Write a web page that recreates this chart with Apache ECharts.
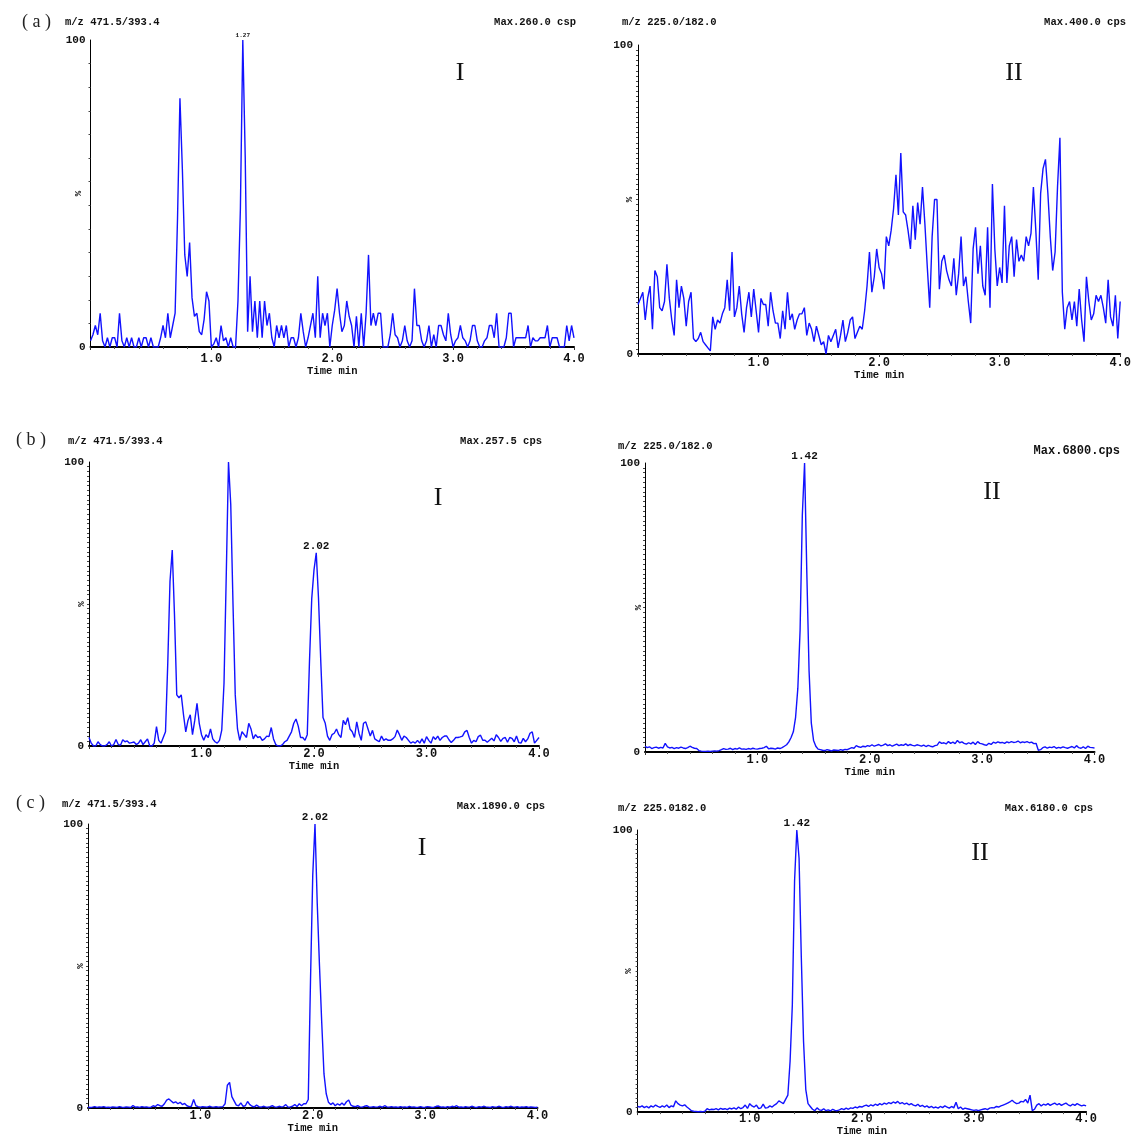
<!DOCTYPE html>
<html>
<head>
<meta charset="utf-8">
<script src="https://cdn.jsdelivr.net/npm/echarts@6/dist/echarts.min.js"></script>
<style>
    html, body { margin: 0; padding: 0; background: #fff; }
    #chart { width: 1134px; height: 1138px; }
</style>
</head>
<body>
<div id="chart"></div>
<script>
// Time grid of all traces (min)
const TIME_STEP = 0.02;

// Relative intensity (%), one value per TIME_STEP
const traceAI = [
    2, 4, 7, 4, 11, 2, 0, 3, 0, 3,
    3, 0, 11, 2, 0, 3, 0, 3, 0, 0,
    3, 0, 3, 3, 0, 3, 0, 0, 0, 3,
    7, 3, 11, 3, 7, 11, 42, 81, 58, 30,
    23, 34, 16, 10, 11, 5, 4, 9, 18, 15,
    0, 1, 3, 0, 7, 2, 3, 0, 3, 0,
    0, 15, 45, 100, 62, 5, 23, 5, 15, 3,
    15, 3, 15, 7, 11, 3, 0, 7, 3, 7,
    3, 7, 0, 3, 3, 0, 3, 11, 5, 0,
    3, 7, 11, 3, 23, 3, 11, 7, 11, 0,
    7, 12, 19, 11, 5, 7, 15, 10, 7, 0,
    10, 0, 11, 0, 11, 30, 7, 11, 7, 11,
    11, 0, 0, 0, 4, 11, 4, 3, 0, 2,
    7, 2, 0, 2, 19, 7, 7, 2, 0, 2,
    7, 0, 4, 0, 7, 7, 4, 2, 11, 4,
    0, 2, 3, 7, 3, 2, 0, 2, 7, 7,
    2, 0, 0, 2, 3, 7, 7, 3, 11, 0,
    0, 0, 3, 11, 11, 0, 3, 3, 3, 3,
    3, 7, 0, 3, 2, 2, 3, 3, 3, 7,
    0, 3, 3, 3, 0, 0, 0, 7, 2, 7,
    3
];

const traceAII = [
    16, 18, 20, 11, 18, 22, 8, 27, 25, 15,
    14, 17, 29, 18, 11, 6, 24, 15, 22, 18,
    9, 17, 20, 5, 4, 5, 7, 4, 3, 2,
    1, 12, 8, 11, 10, 13, 15, 24, 14, 33,
    12, 15, 22, 13, 7, 15, 20, 12, 21, 14,
    7, 18, 16, 16, 9, 20, 14, 10, 10, 5,
    14, 8, 20, 11, 13, 8, 11, 13, 13, 15,
    6, 10, 8, 4, 9, 6, 3, 4, 0, 6,
    4, 6, 8, 2, 6, 11, 4, 7, 11, 12,
    5, 7, 9, 8, 14, 22, 33, 20, 25, 34,
    28, 26, 21, 38, 35, 40, 47, 58, 45, 65,
    46, 45, 40, 34, 48, 37, 49, 42, 54, 42,
    28, 15, 38, 50, 50, 21, 30, 32, 27, 24,
    22, 31, 19, 26, 38, 22, 25, 17, 10, 34,
    41, 26, 35, 22, 19, 41, 15, 55, 34, 22,
    28, 23, 48, 23, 35, 38, 25, 37, 30, 32,
    30, 38, 35, 39, 54, 40, 24, 52, 60, 63,
    52, 38, 27, 33, 54, 70, 20, 8, 15, 17,
    11, 17, 9, 21, 11, 4, 25, 17, 11, 13,
    19, 17, 19, 15, 10, 24, 12, 9, 19, 5,
    17
];

const traceBI = [
    3, 1, 0, 0, 1.5, 0.5, 0, 0, 0.5, 1.5,
    0, 0.5, 2.3, 0.5, 0.3, 2.2, 1.5, 1.8, 1, 1.2,
    1.4, 0.5, 1, 2.2, 0.5, 1.5, 2.5, 0, 0, 1,
    6.8, 2, 1, 3, 5, 29, 58, 69, 46, 18,
    17, 18, 11, 5, 9, 11, 4, 9, 15, 8,
    4, 2, 4, 3, 6, 2.5, 1.5, 1, 2, 5.6,
    22, 60, 100, 85, 50, 18, 6, 2, 5, 4,
    3, 8, 6, 2.5, 4, 3, 3.3, 2, 2.5, 3.5,
    3.3, 6.5, 2.5, 0.5, 0, 0, 0.5, 1.5, 2, 3.5,
    5, 8, 9.5, 7, 3, 3, 2, 4, 30, 52,
    62, 68, 52, 30, 10, 8, 3.5, 2, 4, 4.5,
    6, 4, 3, 9, 7.5, 10, 6, 5, 3, 8.5,
    4.5, 2, 8, 8.5, 6, 3.5, 5.5, 2.5, 2, 1.5,
    3.5, 2, 2.5, 2, 2, 2.5, 3.3, 5.6, 4, 2,
    3.5, 3, 2, 1, 1.5, 1, 2, 1, 2.5, 1,
    3.3, 2, 1, 3.3, 2.3, 3.5, 2, 3, 3.5, 3.5,
    2.2, 1.2, 2, 3, 3, 3.2, 3.5, 5, 5.5, 3,
    1, 2, 1.5, 3.3, 3.8, 2, 2, 1.3, 2, 2.7,
    1.8, 4, 3, 1.6, 2.7, 3, 1.3, 3, 2.7, 1.5,
    3.5, 1.2, 1, 2.7, 1.5, 2.5, 4.5, 5, 1, 2,
    3
];

const traceBII = [
    2, 1.5, 1.8, 1.2, 1.5, 1.7, 1.3, 1.6, 1.4, 3,
    1.8, 1.4, 1.6, 1.2, 1.5, 1.3, 1.7, 1.4, 1.2, 1.5,
    2, 1.6, 1.3, 1.2, 0.5, 0.3, 0.2, 0.2, 0.3, 0.2,
    0.3, 0.4, 0.3, 0.5, 0.8, 1.2, 0.9, 1, 1.3, 0.8,
    1.2, 1, 1.4, 1, 1.1, 0.9, 1.2, 1, 1.3, 1.1,
    1, 1.2, 1.3, 1.5, 2, 1.1, 1.3, 1.2, 1, 1.4,
    1.2, 1.5, 2, 2.5, 3.5, 5, 7, 12, 22, 42,
    82, 100, 62, 28, 10, 4, 2, 1, 0.8, 0.6,
    0.5, 0.8, 0.6, 0.4, 0.7, 0.6, 0.5, 0.8, 0.6, 0.9,
    0.8, 1.2, 1.5, 1.3, 2.2, 1.8, 1.6, 2, 1.8, 2.2,
    2, 2.5, 2, 2.3, 2.6, 2.1, 2.4, 2.8, 2.2, 2.5,
    2, 2.4, 2.7, 2.2, 2.5, 2.3, 2.8, 2.2, 2.6, 2.3,
    2.1, 2.5, 2.3, 2, 2.4, 1.9, 2.3, 2, 1.8, 2.2,
    2.4, 3.5, 3, 3.2, 2.8, 3.6, 3, 3.4, 2.9, 4,
    3.2, 3.5, 3, 2.7, 3.2, 2.8, 3.4, 2.6, 3.6, 3,
    2.8, 2.5, 2.3, 3, 2.6, 3.4, 3.1, 3.5, 3.2, 3.3,
    3, 3.5, 3.2, 3.6, 3.3, 3.4, 3.8, 3.2, 3.5, 3.3,
    3.6, 3.2, 3.4, 2.9, 3, 0.6, 0.8, 1.5, 1.8, 1.3,
    1.7, 1.5, 1.9, 1.3, 1.6, 1.4, 1.8, 1.5, 1.3, 1.6,
    1.9, 1.4, 2.2, 1.5, 1.3, 1.8, 1.2, 2, 1.6, 1.5,
    1.4
];

const traceCI = [
    0.3, 0.2, 0.3, 0.5, 0.2, 0.4, 0.3, 0.5, 0.2, 0.3,
    0.2, 0.4, 0.3, 0.2, 0.5, 0.3, 0.2, 0.4, 0.3, 0.2,
    0.9, 0.3, 0.4, 0.2, 0.5, 0.3, 0.4, 0.2, 0.3, 0.8,
    0.5, 1.2, 0.8, 0.6, 1.5, 2.8, 3.2, 2.5, 1.8, 2.2,
    1.5, 2, 1.2, 1.6, 0.8, 0.5, 0.6, 3, 0.8, 0.5,
    0.3, 0.5, 0.4, 0.3, 0.6, 0.4, 0.3, 0.5, 0.3, 0.4,
    0.5, 1.5, 8, 9, 4, 2.5, 1, 0.8, 1.8, 0.6,
    0.8, 2.3, 1.2, 0.6, 0.4, 1, 0.5, 0.3, 0.6, 0.4,
    0.3, 0.5, 0.8, 0.4, 0.3, 0.6, 0.4, 0.5, 1.2, 0.3,
    0.4, 0.6, 1.2, 0.5, 1.5, 0.8, 1.5, 1.5, 3, 45,
    82, 100, 72, 50, 30, 12, 5, 2, 1.2, 1.8,
    0.8, 1.5, 1, 1.8, 1, 2.2, 2.8, 1, 0.6, 0.5,
    0.8, 0.4, 0.3, 0.6, 0.8, 0.4, 0.3, 0.5, 0.3, 0.4,
    0.6, 0.3, 0.8, 0.4, 0.3, 0.5, 0.3, 0.4, 0.2, 0.5,
    0.3, 0.4, 0.2, 0.6, 0.3, 0.4, 0.2, 0.3, 0.5, 0.2,
    0.3, 0.5, 0.4, 0.2, 0.3, 0.6, 0.7, 0.3, 0.4, 0.2,
    0.5, 0.3, 0.6, 0.4, 0.8, 0.3, 0.4, 0.2, 0.5, 0.3,
    0.4, 0.6, 0.3, 0.2, 0.5, 0.3, 0.6, 0.4, 0.3, 0.2,
    0.5, 0.3, 0.4, 0.6, 0.3, 0.2, 0.5, 0.3, 0.6, 0.4,
    0.3, 0.5, 0.2, 0.4, 0.3, 0.5, 0.2, 0.4, 0.3, 0.2,
    0.3
];

const traceCII = [
    2, 1.8, 2.2, 1.6, 2, 1.5, 2.2, 1.8, 2.5, 2,
    1.7, 2.2, 1.8, 2.5, 1.6, 2.2, 1.9, 4, 3, 2.5,
    2.2, 2.6, 1.8, 1.2, 0.5, 0.3, 0.2, 0.1, 0.2, 0.1,
    0.3, 1.2, 0.8, 1, 0.9, 1.2, 0.8, 1.3, 1, 1.2,
    0.9, 1.4, 1.1, 1.5, 1, 1.8, 1.2, 1.6, 2.5, 1.3,
    3, 2.2, 1.8, 2.5, 1.2, 1.5, 2.8, 1.4, 1.6, 2.2,
    1.8, 2.5, 3, 4, 3.5, 3, 4.5, 6, 18, 38,
    82, 100, 90, 55, 25, 8, 3, 2, 1, 0.5,
    1.5, 0.8, 0.6, 1.2, 0.5, 0.8, 0.4, 1, 0.6, 0.5,
    0.8, 1.2, 0.9, 1.4, 1, 1.5, 1.3, 1.8, 1.5, 2,
    1.8, 2.2, 2.5, 2, 2.6, 2.2, 2.8, 2.4, 3, 2.6,
    3.2, 2.8, 3.4, 3, 3.6, 3.2, 3.8, 3, 3.4, 2.8,
    3.2, 2.6, 3, 2.5, 2.2, 2.8, 2, 2.4, 1.8, 2.2,
    1.6, 2, 1.5, 1.8, 1.4, 2, 1.6, 2.2, 1.8, 1.4,
    2, 1.5, 3.5, 1.2, 1.8, 1, 1.4, 1.2, 1, 0.8,
    0.6, 0.8, 0.5, 0.8, 1, 1.2, 0.9, 1.4, 1.6, 1.5,
    2, 1.8, 2.2, 2.5, 2.8, 3.2, 3.6, 4.2, 3.5, 3,
    3.2, 3.8, 3.6, 4.5, 3.2, 6, 0.5, 1, 2.5, 3,
    2.2, 2.8, 2.5, 3, 2.4, 2.8, 3.2, 2.6, 3, 2.4,
    2.8, 3.2, 2.6, 2.2, 2.8, 2.4, 3, 2.6, 2.2, 2.5,
    2.2
];

// Panel texts
const panelLetters = ['( a )', '( b )', '( c )'];
const mzLabels = ['m/z 471.5/393.4', 'm/z 225.0/182.0', 'm/z 471.5/393.4', 'm/z 225.0/182.0', 'm/z 471.5/393.4', 'm/z 225.0182.0'];
const maxLabels = ['Max.260.0 csp', 'Max.400.0 cps', 'Max.257.5 cps', 'Max.6800.cps', 'Max.1890.0 cps', 'Max.6180.0 cps'];
const romanLabels = ['I', 'II', 'I', 'II', 'I', 'II'];
const peakTimes = [1.27, null, 2.02, 1.42, 2.02, 1.42];
const peakLabels = ['1.27', '', '2.02', '1.42', '2.02', '1.42'];
const xTickLabels = ['', '1.0', '2.0', '3.0', '4.0'];
const yTickLabels = ['0', '100'];

const traces = [traceAI, traceAII, traceBI, traceBII, traceCI, traceCII];

// Layout for each panel: plot box, label gaps and header positions
const panels = [
    { box: [90.5, 40, 483.5, 307], tickMargin: 6, nameGap: 17, pctGap: 7, ySplit: 13,
      mz: [65, 22], max: [576, 22], roman: [460, 73], letter: [22, 22], peakFont: 6, maxFont: 10.5 },
    { box: [638, 45, 484, 309], tickMargin: 3, nameGap: 14, pctGap: 4, ySplit: 60,
      mz: [622, 22], max: [1126, 22], roman: [1014, 73], peakFont: 11, maxFont: 10.5 },
    { box: [89, 462, 450, 284], tickMargin: 2, nameGap: 11, pctGap: 3, ySplit: 60,
      mz: [68, 441], max: [542, 441], roman: [438, 498], letter: [16, 440], peakFont: 11, maxFont: 10.5 },
    { box: [645, 463, 449.5, 289], tickMargin: 2, nameGap: 13, pctGap: 2, ySplit: 60,
      mz: [618, 446], max: [1120, 451], roman: [992, 492], peakFont: 11, maxFont: 12 },
    { box: [88, 824, 449.5, 284], tickMargin: 2, nameGap: 15, pctGap: 3, ySplit: 60,
      mz: [62, 804], max: [545, 806], roman: [422, 848], letter: [16, 803], peakFont: 11, maxFont: 10.5 },
    { box: [637.6, 830, 448.5, 284], tickMargin: 1, nameGap: 13, pctGap: 4, ySplit: 60,
      mz: [618, 808], max: [1093, 808], roman: [980, 853], peakFont: 11, maxFont: 10.5 }
];

const LINE_COLOR = '#1212ff';
const MONO = '"Liberation Mono", "DejaVu Sans Mono", monospace';
const SERIF = '"Liberation Serif", "DejaVu Serif", serif';

const toPairs = vals => vals.map((v, i) => [+(i * TIME_STEP).toFixed(2), v]);

// Highest point near the labelled retention time
function peakPoint(pairs, t) {
    let best = null;
    pairs.forEach(p => {
        if (Math.abs(p[0] - t) <= 0.03 && (!best || p[1] > best[1])) best = p;
    });
    return best;
}

const grids = [], xAxes = [], yAxes = [], series = [], graphics = [];

panels.forEach((p, i) => {
    const [left, top, width, height] = p.box;
    grids.push({ left, top, width, height });

    xAxes.push({
        gridIndex: i, type: 'value', min: 0, max: 4, interval: 1,
        name: 'Time min', nameLocation: 'middle', nameGap: p.nameGap,
        nameTextStyle: { fontFamily: MONO, fontWeight: 'bold', fontSize: 10.5, color: '#111' },
        axisLine: { show: true, onZero: false, lineStyle: { color: '#000', width: 2 } },
        axisTick: { show: true, length: 3, lineStyle: { color: '#333' } },
        minorTick: { show: true, splitNumber: 5, length: 2, lineStyle: { color: '#555' } },
        splitLine: { show: false },
        axisLabel: {
            margin: p.tickMargin, fontFamily: MONO, fontWeight: 'bold', fontSize: 12, color: '#111',
            formatter: v => xTickLabels[Math.round(v)] || ''
        }
    });

    yAxes.push({
        gridIndex: i, type: 'value', min: 0, max: 100, interval: 100,
        name: '%', nameLocation: 'middle', nameGap: p.pctGap, nameRotate: 90, nameMoveOverlap: false,
        nameTextStyle: { fontFamily: MONO, fontWeight: 'bold', fontSize: 9, color: '#111' },
        axisLine: { show: true, lineStyle: { color: '#000', width: 1 } },
        axisTick: { show: false },
        minorTick: { show: true, splitNumber: p.ySplit, length: 2, lineStyle: { color: '#444' } },
        splitLine: { show: false },
        axisLabel: {
            margin: 5, fontFamily: MONO, fontWeight: 'bold', fontSize: 11, color: '#111',
            formatter: v => (v === 0 ? yTickLabels[0] : yTickLabels[1])
        }
    });

    const pairs = toPairs(traces[i]);
    const s = {
        type: 'line', xAxisIndex: i, yAxisIndex: i, data: pairs,
        showSymbol: false, symbol: 'none', animation: false, silent: true,
        lineStyle: { color: LINE_COLOR, width: 1.4 }
    };
    if (peakTimes[i] !== null) {
        const pk = peakPoint(pairs, peakTimes[i]);
        s.markPoint = {
            symbol: 'circle', symbolSize: 1, itemStyle: { color: 'rgba(0,0,0,0)' },
            label: {
                show: true, position: 'top', distance: 1, formatter: peakLabels[i],
                fontFamily: MONO, fontWeight: 'bold', fontSize: p.peakFont, color: '#111'
            },
            data: [{ coord: pk }]
        };
    }
    series.push(s);

    // headers
    graphics.push({
        type: 'text', x: p.mz[0], y: p.mz[1],
        style: { text: mzLabels[i], font: 'bold 10.5px ' + MONO, fill: '#111', align: 'left', verticalAlign: 'middle' }
    });
    graphics.push({
        type: 'text', x: p.max[0], y: p.max[1],
        style: { text: maxLabels[i], font: 'bold ' + p.maxFont + 'px ' + MONO, fill: '#111', align: 'right', verticalAlign: 'middle' }
    });
    graphics.push({
        type: 'text', x: p.roman[0], y: p.roman[1],
        style: { text: romanLabels[i], font: '26px ' + SERIF, fill: '#111', align: 'center', verticalAlign: 'middle' }
    });
    if (p.letter) {
        graphics.push({
            type: 'text', x: p.letter[0], y: p.letter[1],
            style: { text: panelLetters[i / 2], font: '18px ' + SERIF, fill: '#222', align: 'left', verticalAlign: 'middle' }
        });
    }
});

const chart = echarts.init(document.getElementById('chart'), null, { renderer: 'canvas' });
chart.setOption({
    backgroundColor: '#fff',
    animation: false,
    grid: grids,
    xAxis: xAxes,
    yAxis: yAxes,
    series: series,
    graphic: graphics
});
</script>
</body>
</html>
